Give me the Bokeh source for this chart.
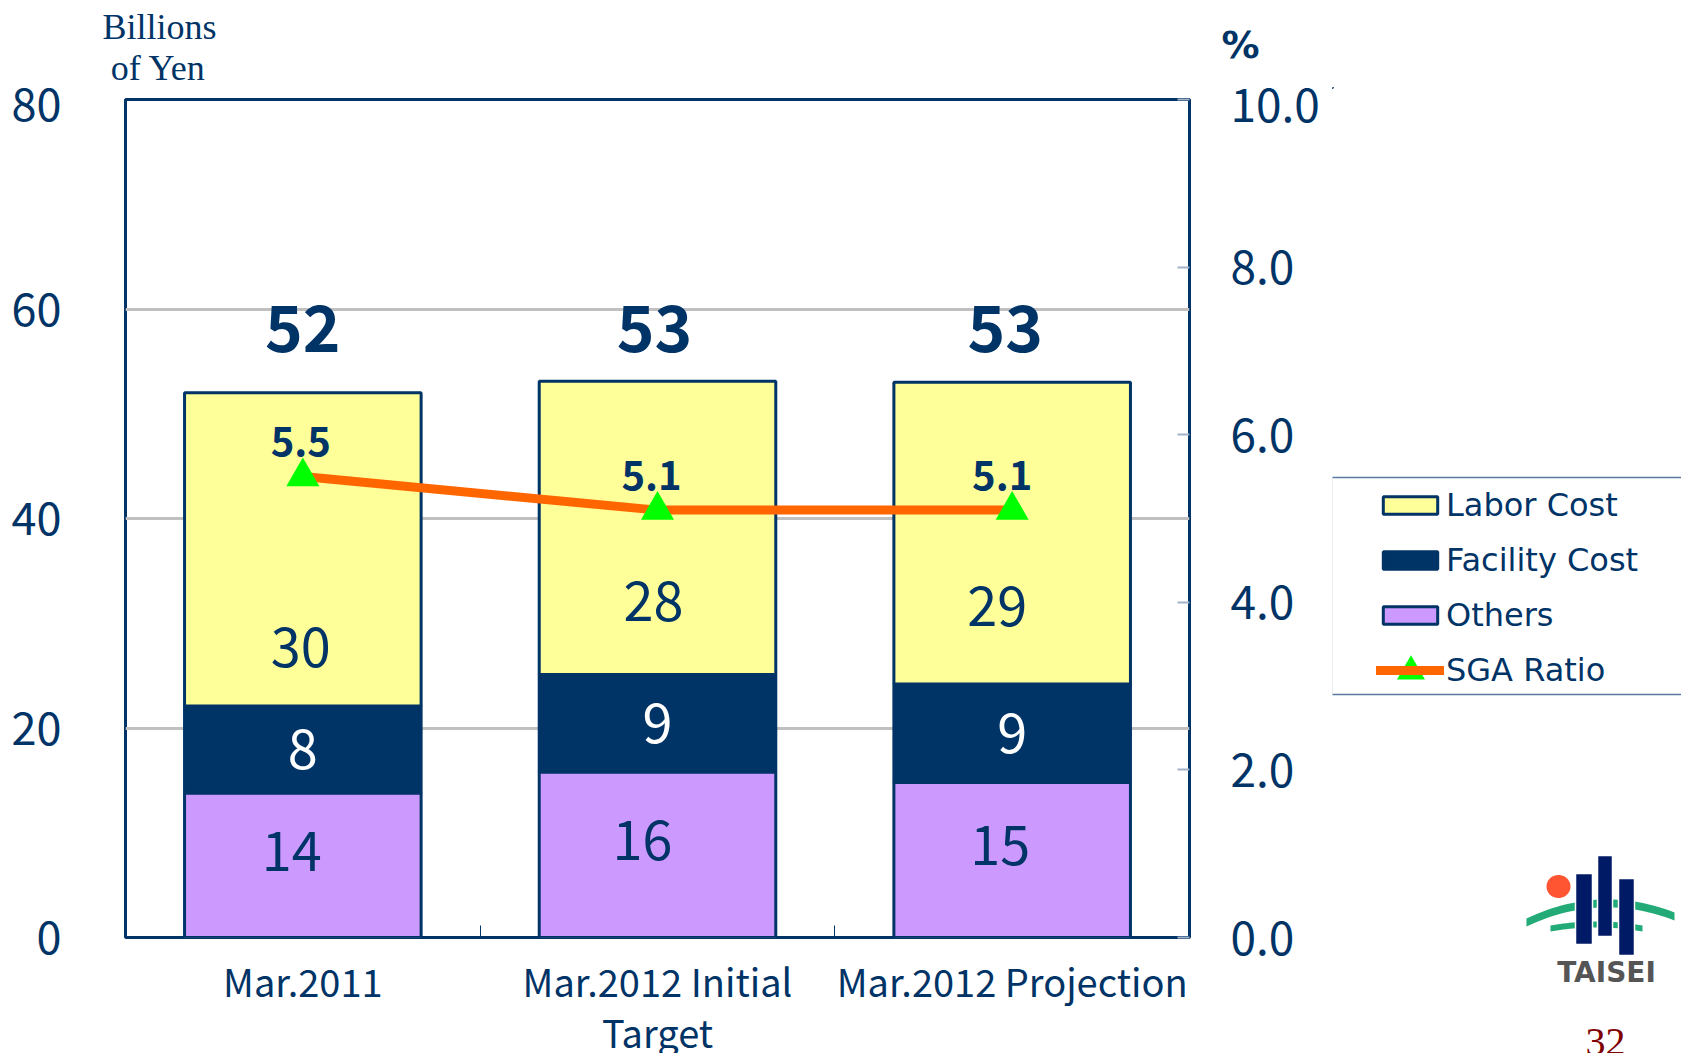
import numpy as np
from bokeh.plotting import figure
from bokeh.layouts import column, row
from bokeh.models import (Range1d, LinearAxis, FixedTicker, Legend, LegendItem,
                          ColumnDataSource, NumeralTickFormatter)
from bokeh.core.properties import value
from bokeh.embed import file_html
from bokeh.resources import INLINE

# ---------------- data ----------------
categories = ["Mar.2011", "Mar.2012 Initial\nTarget", "Mar.2012 Projection"]
others = [13.8, 15.8, 14.8]
facility = [8.3, 9.3, 9.4]
labor = [29.9, 28.0, 28.8]
sga_ratio = [5.5, 5.1, 5.1]
left_ticks = [0, 20, 40, 60, 80]
right_ticks = [0, 2, 4, 6, 8, 10]
series_names = ["Labor Cost", "Facility Cost", "Others", "SGA Ratio"]

# ---------------- style ----------------
NAVY = "#003366"
C_LABOR = "#FFFF99"
C_FAC = "#003366"
C_OTH = "#CC99FF"
C_LINE = "#FF6600"
C_MARK = "#00FF00"
NARROW = "Noto Sans CJK JP"
SERIF = "Liberation Serif"
TOP_H = 87
TOTAL_W = 1681
MAIN_W = 1332
BODY_H = 1053 - TOP_H

n = len(categories)
xs = [i + 0.5 for i in range(n)]
t1 = list(others)
t2 = [o + f for o, f in zip(others, facility)]
t3 = [a + l for a, l in zip(t2, labor)]


def bare(w, h, x0, x1, y0, y1):
    f = figure(frame_width=w, frame_height=h, x_range=Range1d(x0, x1), y_range=Range1d(y0, y1),
               output_backend="svg", toolbar_location=None, x_axis_location=None,
               y_axis_location=None, min_border=0, title=None, frame_align=False)
    f.grid.visible = False
    f.outline_line_color = None
    f.background_fill_color = "white"
    f.border_fill_color = "white"
    return f


# ---------------- top strip: unit captions ----------------
top = bare(TOTAL_W, TOP_H, 0, TOTAL_W, TOP_H, 0)
top.text(x=[159, 158], y=[26, 67], text=["Billions", "of Yen"], text_align="center",
         text_baseline="middle", text_font=value(SERIF), text_font_size="36px",
         text_color=NAVY)
top.text(x=[1240], y=[44], text=["%"], text_align="center", text_baseline="middle",
         text_font=value("DejaVu Sans"), text_font_style="bold", text_font_size="38px",
         text_color=NAVY)

# ---------------- main chart ----------------
p = figure(frame_width=1064, frame_height=838, x_range=Range1d(0, n), y_range=Range1d(0, 80),
           output_backend="svg", toolbar_location=None, frame_align=False,
           min_border_left=125, min_border_top=12, min_border_right=MAIN_W - 125 - 1064,
           min_border_bottom=BODY_H - 12 - 838)
p.extra_y_ranges = {"pct": Range1d(0, 10)}
p.background_fill_color = "white"
p.border_fill_color = "white"
p.outline_line_color = NAVY
p.outline_line_width = 3

p.xgrid.visible = False
p.ygrid.ticker = FixedTicker(ticks=left_ticks)
p.ygrid.grid_line_color = "#C0C0C0"
p.ygrid.grid_line_width = 3

ya = p.yaxis[0]
ya.ticker = FixedTicker(ticks=left_ticks, minor_ticks=[])
ya.axis_line_color = None
ya.major_tick_in = 0
ya.major_tick_out = 0
ya.minor_tick_line_color = None
ya.major_label_standoff = 64
ya.major_label_text_font = NARROW
ya.major_label_text_font_size = "45px"
ya.major_label_text_color = NAVY

ra = LinearAxis(y_range_name="pct", ticker=FixedTicker(ticks=right_ticks, minor_ticks=[]),
                formatter=NumeralTickFormatter(format="0.0"))
ra.axis_line_color = None
ra.major_tick_in = 12
ra.major_tick_out = 0
ra.major_tick_line_color = "#A0B2C8"
ra.major_tick_line_width = 2
ra.minor_tick_line_color = None
ra.major_label_standoff = 41
ra.major_label_text_font = NARROW
ra.major_label_text_font_size = "46px"
ra.major_label_text_color = NAVY
p.add_layout(ra, "right")

xa = p.xaxis[0]
xa.ticker = FixedTicker(ticks=xs, minor_ticks=[i for i in range(1, n)])
xa.major_label_overrides = {x: c for x, c in zip(xs, categories)}
xa.axis_line_color = None
xa.major_tick_line_color = None
xa.major_tick_in = 0
xa.major_tick_out = 0
xa.minor_tick_in = 12
xa.minor_tick_out = 0
xa.minor_tick_line_color = NAVY
xa.minor_tick_line_width = 1
xa.major_label_standoff = 15
xa.major_label_text_font = NARROW
xa.major_label_text_font_size = "38px"
xa.major_label_text_color = NAVY
xa.major_label_text_line_height = 0.945

src = ColumnDataSource(dict(x=xs, t1=t1, t2=t2, t3=t3, zero=[0] * n))
bw = 0.667
p.vbar(x="x", width=bw, bottom="zero", top="t1", source=src,
       fill_color=C_OTH, line_color=NAVY, line_width=3)
p.vbar(x="x", width=bw, bottom="t1", top="t2", source=src,
       fill_color=C_FAC, line_color=NAVY, line_width=3)
p.vbar(x="x", width=bw, bottom="t2", top="t3", source=src,
       fill_color=C_LABOR, line_color=NAVY, line_width=3)
p.line(xs, sga_ratio, y_range_name="pct", line_color=C_LINE, line_width=9,
       line_cap="round", line_join="round")
p.scatter(xs, sga_ratio, y_range_name="pct", marker="triangle", size=33,
          fill_color=C_MARK, line_color=None)

labor_nudge = [5.6, 7.0, 7.4]
others_nudge = 1.4
lab = ColumnDataSource(dict(
    x=xs,
    oth_y=[o / 2 + others_nudge for o in others],
    oth_t=[f"{round(v)}" for v in others],
    oth_dx=[-11, -15, -12],
    fac_y=[(a + b) / 2 for a, b in zip(t1, t2)],
    fac_t=[f"{round(v)}" for v in facility],
    lab_y=[b + d for b, d in zip(t2, labor_nudge)],
    lab_t=[f"{round(v)}" for v in labor],
    lab_dx=[-2, -4, -15],
    tot_y=[max(t3) + 5.0] * n,
    tot_t=[f"{round(v)}" for v in t3],
    tot_dx=[0, -3, -7],
    rat_y=[r + 0.42 for r in sga_ratio],
    rat_t=[f"{v:.1f}" for v in sga_ratio],
    rat_dx=[-2, -6, -10],
))
common = dict(source=lab, text_align="center", text_baseline="middle", text_font=value(NARROW))
p.text(x="x", y="oth_y", text="oth_t", x_offset="oth_dx", text_font_size="54px",
       text_color=NAVY, **common)
p.text(x="x", y="fac_y", text="fac_t", text_font_size="54px", text_color="white", **common)
p.text(x="x", y="lab_y", text="lab_t", x_offset="lab_dx", text_font_size="54px",
       text_color=NAVY, **common)
p.text(x="x", y="tot_y", text="tot_t", x_offset="tot_dx", text_font_size="64px",
       text_font_style="bold", text_color=NAVY, **common)
p.text(x="x", y="rat_y", text="rat_t", x_offset="rat_dx", y_range_name="pct",
       text_font_size="40px", text_font_style="bold", text_color=NAVY, **common)

# ---------------- side panel: legend + logo ----------------
SIDE_W = TOTAL_W - MAIN_W
side = bare(SIDE_W, BODY_H, MAIN_W, TOTAL_W, 1053, TOP_H)
side.quad(left=[1331], right=[TOTAL_W + 20], top=[477], bottom=[694],
          fill_color="white", line_color="#5A7AA0", line_width=1.5)
# legend proxies (same styling as the chart series, placed outside the view)
pr_lab = side.vbar(x=[-100], width=1, top=[1], bottom=[0], fill_color=C_LABOR,
                   line_color=NAVY, line_width=3)
pr_fac = side.vbar(x=[-100], width=1, top=[1], bottom=[0], fill_color=C_FAC,
                   line_color=NAVY, line_width=3)
pr_oth = side.vbar(x=[-100], width=1, top=[1], bottom=[0], fill_color=C_OTH,
                   line_color=NAVY, line_width=3)
pr_line = side.line(x=[-100, -99], y=[0, 0], line_color=C_LINE, line_width=9, line_cap="round")
legend = Legend(items=[LegendItem(label=series_names[0], renderers=[pr_lab]),
                       LegendItem(label=series_names[1], renderers=[pr_fac]),
                       LegendItem(label=series_names[2], renderers=[pr_oth]),
                       LegendItem(label=series_names[3], renderers=[pr_line])],
                location=(1376 - 10 - MAIN_W, 1053 - 699), label_text_font="DejaVu Sans",
                label_text_font_size="32px", label_text_color=NAVY,
                glyph_width=68, glyph_height=22, label_height=36, spacing=17,
                padding=10, label_standoff=2, border_line_alpha=0,
                background_fill_alpha=0)
side.add_layout(legend)
side.scatter(x=[1410.5], y=[671], marker="triangle", size=28, fill_color=C_MARK,
             line_color=None, level="overlay")

# logo
th = np.linspace(0, 2 * np.pi, 40)
side.patch(x=1558 + 12 * np.cos(th), y=886 + 11.5 * np.sin(th), fill_color="#FF5533",
           line_color=None)
u = np.linspace(-1, 1, 30)
top_x = 1600 + 74 * u
top_y = 903 + 16 * u ** 2 - 3 * u
side.patch(x=np.r_[top_x, top_x[::-1]], y=np.r_[top_y - 4, top_y[::-1] + 4],
           fill_color="#22AA77", line_color=None)
low_x = 1596 + 46 * u
low_y = 924 + 4 * u ** 2
side.patch(x=np.r_[low_x, low_x[::-1]], y=np.r_[low_y - 3, low_y[::-1] + 3],
           fill_color="#22AA77", line_color=None)
side.quad(left=[1575, 1597, 1618], right=[1592, 1612, 1634], top=[873, 855, 878],
          bottom=[944, 936, 955], fill_color="#001A66", line_color="white", line_width=1.5)
side.text(x=[1606], y=[972], text=["TAISEI"], text_align="center", text_baseline="middle",
          text_font=value("DejaVu Sans"), text_font_style="bold", text_font_size="28px",
          text_color="#555555")
side.text(x=[1605], y=[1028], text=["32"], text_align="center", text_baseline="top",
          text_font=value(SERIF), text_font_size="40px", text_color="#800000")

layout = column(top, row(p, side, spacing=0), spacing=0)
open("out.html", "w").write(file_html(layout, INLINE))
